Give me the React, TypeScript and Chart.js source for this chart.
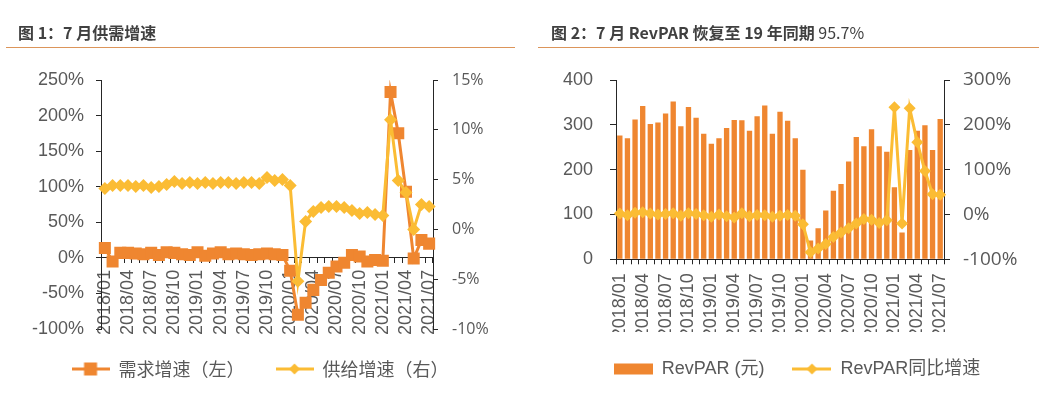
import React, { useEffect, useRef } from 'react';
import { Chart, registerables } from 'chart.js';

Chart.register(...registerables);

// ---------- data ----------
const months = [
  '2018/01', '2018/02', '2018/03', '2018/04', '2018/05', '2018/06', '2018/07', '2018/08', '2018/09', '2018/10', '2018/11', '2018/12',
  '2019/01', '2019/02', '2019/03', '2019/04', '2019/05', '2019/06', '2019/07', '2019/08', '2019/09', '2019/10', '2019/11', '2019/12',
  '2020/01', '2020/02', '2020/03', '2020/04', '2020/05', '2020/06', '2020/07', '2020/08', '2020/09', '2020/10', '2020/11', '2020/12',
  '2021/01', '2021/02', '2021/03', '2021/04', '2021/05', '2021/06', '2021/07',
];

// 需求增速 (%) — left axis
const demandGrowth = [
  14, -5, 7, 7, 6, 5, 7, 4, 8, 7, 5, 4,
  8, 3, 6, 8, 5, 6, 5, 4, 5, 6, 5, 4,
  -18, -80, -63, -45, -31, -21, -12, -7, 4, 2, -5, -3,
  -4, 233, 175, 93, -1, 25, 20,
];

// 供给增速 (%) — right axis
const supplyGrowth = [
  4.1, 4.4, 4.4, 4.4, 4.3, 4.4, 4.2, 4.3, 4.5, 4.8, 4.6, 4.7,
  4.6, 4.7, 4.6, 4.7, 4.7, 4.6, 4.7, 4.7, 4.6, 5.2, 4.9, 5.0,
  4.4, -5.2, 0.8, 1.8, 2.2, 2.3, 2.3, 2.2, 1.9, 1.6, 1.7, 1.5,
  1.4, 11.0, 4.9, 3.7, 0.0, 2.5, 2.3,
];

// RevPAR (元)
const revpar = [
  276, 270, 312, 342, 302, 305, 325, 352, 297, 340, 316, 280,
  258, 270, 293, 311, 310, 287, 319, 343, 280, 329, 309, 270,
  200, 42, 69, 109, 153, 168, 218, 273, 252, 290, 252, 240,
  161, 60, 244, 287, 299, 244, 313,
];

// RevPAR同比增速 (%)
const revparYoY = [
  2, -2, 4, 5, 2, 0, 1, 3, -3, 3, 1, -2,
  -5, 0, -4, -7, 3, -4, -1, -2, -5, -3, -1, -3,
  -22, -84, -76, -66, -50, -40, -31, -20, -10, -12, -19, -13,
  239, -20, 237, 161, 97, 45, 44,
];

const leftTicks = { min: -100, max: 250, step: 50 };
const rightTicks = { min: -10, max: 15, step: 5 };
const revTicks = { min: 0, max: 400, step: 50 };
const yoyTicks = { min: -100, max: 300, step: 100 };

// ---------- style ----------
const ORANGE = '#EF8630';
const GOLD = '#FBBC34';
const AXIS = '#262626';
const TICK = '#595959';
const ARIAL = '"Liberation Sans", "Noto Sans CJK SC", sans-serif';
const ROUND = '"Open Sans", "Noto Sans CJK SC", sans-serif';
const CJK = '"Noto Sans CJK SC", "Liberation Sans", sans-serif';

function makeIcon(kind: string, color: string, w = 38, h = 18): HTMLCanvasElement {
  const c = document.createElement('canvas');
  c.width = w;
  c.height = h;
  const ctx = c.getContext('2d')!;
  ctx.fillStyle = color;
  ctx.strokeStyle = color;
  if (kind === 'bar') {
    ctx.fillRect(0, (h - 11) / 2, w, 11);
    return c;
  }
  ctx.lineWidth = 3;
  ctx.beginPath();
  ctx.moveTo(0, h / 2);
  ctx.lineTo(w, h / 2);
  ctx.stroke();
  if (kind === 'rect') {
    ctx.fillRect(w / 2 - 6.5, h / 2 - 6.5, 13, 13);
  } else {
    const r = 5.5;
    ctx.beginPath();
    ctx.moveTo(w / 2, h / 2 - r);
    ctx.lineTo(w / 2 + r, h / 2);
    ctx.lineTo(w / 2, h / 2 + r);
    ctx.lineTo(w / 2 - r, h / 2);
    ctx.closePath();
    ctx.fill();
  }
  return c;
}

const pct = (v: any) => `${v}%`;

function LeftChart() {
  const ref = useRef<HTMLCanvasElement>(null);
  useEffect(() => {
    const icons = [makeIcon('rect', ORANGE), makeIcon('diamond', GOLD)];
    const chart = new Chart(ref.current!, {
      type: 'line',
      data: {
        labels: months,
        datasets: [
          {
            label: '需求增速（左）',
            data: demandGrowth,
            yAxisID: 'y',
            borderColor: ORANGE,
            backgroundColor: ORANGE,
            borderWidth: 3,
            pointStyle: 'rect',
            pointRadius: 8.5,
            pointBorderWidth: 0,
            tension: 0,
            order: 1,
          },
          {
            label: '供给增速（右）',
            data: supplyGrowth,
            yAxisID: 'y1',
            borderColor: GOLD,
            backgroundColor: GOLD,
            borderWidth: 3,
            pointStyle: 'rectRot',
            pointRadius: 6.5,
            pointBorderWidth: 0,
            tension: 0,
            order: 0,
          },
        ],
      },
      options: {
        responsive: false,
        animation: false,
        devicePixelRatio: 1,
        layout: { padding: { left: 0, right: 0, top: 80, bottom: 11 } },
        plugins: {
          tooltip: { enabled: false },
          legend: {
            position: 'bottom',
            labels: {
              usePointStyle: true,
              pointStyleWidth: 38,
              padding: 31,
              color: TICK,
              font: { size: 18, family: CJK },
              generateLabels: (ch: any) =>
                ch.data.datasets.map((ds: any, i: number) => ({
                  text: ds.label,
                  pointStyle: icons[i],
                  fillStyle: ds.backgroundColor,
                  strokeStyle: ds.borderColor,
                  lineWidth: 0,
                  hidden: false,
                  datasetIndex: i,
                  fontColor: TICK,
                })),
            },
          },
        },
        scales: {
          x: {
            type: 'category',
            offset: true,
            position: { y: 0 } as any,
            grid: { display: true, drawOnChartArea: false, drawTicks: true, tickLength: 5, offset: true, color: AXIS },
            border: { display: true, color: AXIS, width: 1 },
            ticks: {
              autoSkip: false,
              maxRotation: 90,
              minRotation: 90,
              padding: 7,
              color: TICK,
              font: { size: 18, family: ARIAL },
              callback: (_v: any, i: number) => (i % 3 === 0 ? months[i] : ''),
            },
          },
          y: {
            position: 'left',
            min: leftTicks.min,
            max: leftTicks.max,
            grid: { display: true, drawOnChartArea: false, drawTicks: true, tickLength: 5, color: AXIS },
            border: { display: true, color: AXIS, width: 1 },
            ticks: { stepSize: leftTicks.step, padding: 12, color: TICK, font: { size: 18, family: ARIAL }, callback: pct },
            afterFit: (s: any) => { s.width = 101; },
          },
          y1: {
            position: 'right',
            min: rightTicks.min,
            max: rightTicks.max,
            grid: { display: true, drawOnChartArea: false, drawTicks: true, tickLength: 5, color: AXIS },
            border: { display: true, color: AXIS, width: 1 },
            ticks: { stepSize: rightTicks.step, padding: 14, color: TICK, font: { size: 16, family: ROUND }, callback: pct },
            afterFit: (s: any) => { s.width = 87; },
          },
        },
      } as any,
    });
    return () => chart.destroy();
  }, []);
  return <canvas ref={ref} width={520} height={399} style={{ position: 'absolute', left: 0, top: 0, width: 520, height: 399 }} />;
}

function RightChart() {
  const ref = useRef<HTMLCanvasElement>(null);
  useEffect(() => {
    const icons = [makeIcon('bar', ORANGE, 39), makeIcon('diamond', GOLD, 39)];
    const chart = new Chart(ref.current!, {
      type: 'bar',
      data: {
        labels: months,
        datasets: [
          {
            type: 'bar',
            label: 'RevPAR (元)',
            data: revpar,
            yAxisID: 'y',
            backgroundColor: ORANGE,
            borderWidth: 0,
            categoryPercentage: 1,
            barPercentage: 0.7,
            order: 1,
          },
          {
            type: 'line',
            label: 'RevPAR同比增速',
            data: revparYoY,
            yAxisID: 'y1',
            borderColor: GOLD,
            backgroundColor: GOLD,
            borderWidth: 3,
            pointStyle: 'rectRot',
            pointRadius: 6,
            pointBorderWidth: 0,
            tension: 0,
            order: 0,
          },
        ],
      },
      options: {
        responsive: false,
        animation: false,
        devicePixelRatio: 1,
        layout: { padding: { left: 35, right: 0, top: 80, bottom: 11 } },
        plugins: {
          tooltip: { enabled: false },
          legend: {
            position: 'bottom',
            labels: {
              usePointStyle: true,
              pointStyleWidth: 39,
              padding: 28,
              color: TICK,
              font: { size: 18, family: ARIAL },
              generateLabels: (ch: any) =>
                ch.data.datasets.map((ds: any, i: number) => ({
                  text: ds.label,
                  pointStyle: icons[i],
                  fillStyle: ds.backgroundColor,
                  strokeStyle: ds.borderColor || ds.backgroundColor,
                  lineWidth: 0,
                  hidden: false,
                  datasetIndex: i,
                  fontColor: TICK,
                })),
            },
          },
        },
        scales: {
          x: {
            type: 'category',
            offset: true,
            position: 'bottom',
            grid: { display: true, drawOnChartArea: false, drawTicks: true, tickLength: 5, offset: true, color: AXIS },
            border: { display: true, color: AXIS, width: 1 },
            ticks: {
              autoSkip: false,
              maxRotation: 90,
              minRotation: 90,
              padding: 9,
              color: TICK,
              font: { size: 18, family: ARIAL },
              callback: (_v: any, i: number) => (i % 3 === 0 ? months[i] : ''),
            },
            afterFit: (s: any) => { s.height = 72.7; },
          },
          y: {
            position: 'left',
            min: revTicks.min,
            max: revTicks.max,
            grid: { display: true, drawOnChartArea: false, drawTicks: true, tickLength: 6, color: AXIS },
            border: { display: true, color: AXIS, width: 1 },
            ticks: { stepSize: revTicks.step, padding: 17, color: TICK, font: { size: 18, family: ARIAL } },
            afterFit: (s: any) => { s.width = 61; },
          },
          y1: {
            position: 'right',
            min: yoyTicks.min,
            max: yoyTicks.max,
            grid: { display: true, drawOnChartArea: false, drawTicks: true, tickLength: 6, color: AXIS },
            border: { display: true, color: AXIS, width: 1 },
            ticks: { stepSize: yoyTicks.step, padding: 13, color: TICK, font: { size: 19, family: ROUND }, callback: pct },
            afterFit: (s: any) => { s.width = 95; },
          },
        },
      } as any,
    });
    return () => chart.destroy();
  }, []);
  return <canvas ref={ref} width={519} height={399} style={{ position: 'absolute', left: 520, top: 0, width: 519, height: 399 }} />;
}

const titleStyle: React.CSSProperties = {
  position: 'absolute',
  top: 21,
  fontFamily: CJK,
  fontSize: 16,
  lineHeight: '22px',
  fontWeight: 700,
  color: '#404040',
  whiteSpace: 'nowrap',
  zIndex: 2,
};

export default function App() {
  return (
    <div style={{ position: 'fixed', left: 0, top: 0, width: 1039, height: 399, background: '#fff', overflow: 'hidden' }}>
      <LeftChart />
      <RightChart />
      <div style={{ ...titleStyle, left: 18 }}>图 1：7 月供需增速</div>
      <div style={{ position: 'absolute', left: 6, top: 47, width: 509, height: 0, borderTop: '1.5px solid #DC955A' }} />
      <div style={{ ...titleStyle, left: 551 }}>
        图 2：7 月 RevPAR 恢复至 19 年同期 <span style={{ fontWeight: 400 }}>95.7%</span>
      </div>
      <div style={{ position: 'absolute', left: 538, top: 47, width: 501, height: 0, borderTop: '1.5px solid #DC955A' }} />
    </div>
  );
}
